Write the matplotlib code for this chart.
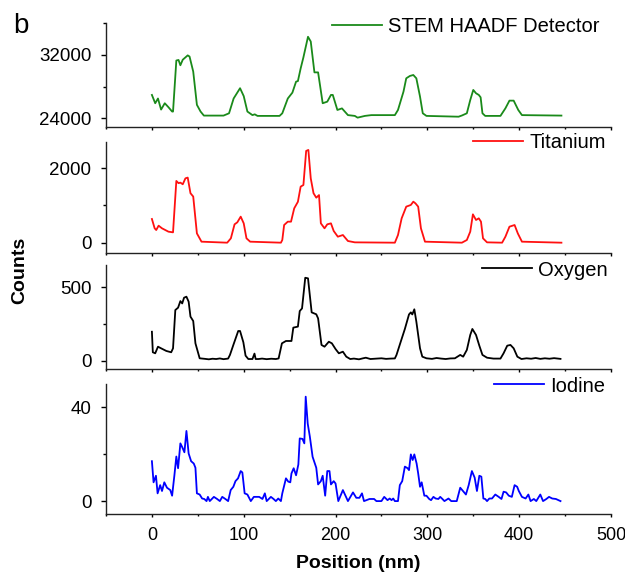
import matplotlib
matplotlib.use('Agg')
import matplotlib.pyplot as plt
from matplotlib.ticker import MultipleLocator

plt.rcParams['font.family'] = ['Liberation Sans', 'DejaVu Sans']

# STEM HAADF line profile
haadf_x = [0, 3.6, 6.6, 10, 14, 18, 22, 23, 26.6, 29, 31, 33.6, 39, 41, 45, 49, 53, 56.6, 78, 84,
           89, 96, 100, 104, 109.5, 112, 115, 139, 142, 148, 153, 157, 159, 162, 165, 170, 173, 177,
           181, 186, 191, 195, 197, 202, 207, 213.5, 221, 224, 232, 239, 264.6, 268, 274, 277, 281,
           284.7, 288, 292, 295, 299, 334, 337.6, 343, 346.7, 350, 353, 356, 358, 360, 363, 379.6,
           385, 389.4, 394, 399, 403, 446]
haadf_y = [26950, 25900, 26500, 25100, 25900, 25400, 24850, 24850, 31300, 31370, 30700, 31400, 31950,
           31800, 29900, 25700, 24850, 24340, 24340, 24630, 26500, 27800, 26800, 24850, 24400, 24500,
           24300, 24300, 24630, 26500, 27240, 28630, 28700, 30300, 31700, 34300, 33700, 29800, 29800,
           25900, 26100, 26950, 26950, 25050, 25250, 24400, 24300, 24080, 24300, 24400, 24400, 25050,
           27370, 29050, 29350, 29470, 29050, 26740, 24630, 24300, 24200, 24350, 24630, 26300, 27580,
           27160, 26950, 26650, 24630, 24300, 24300, 25260, 26230, 26230, 25050, 24400, 24340]

# Titanium
ti_x = [0, 3, 4.7, 7.3, 11, 14.6, 18, 23, 26.6, 29, 31, 33.6, 36.5, 39, 42, 45, 49, 54, 82, 86, 90,
        93, 96.7, 100, 103, 107, 140.5, 142, 144, 148, 151.5, 155, 159, 162, 165, 168, 170.4, 173,
        176, 179, 182, 184, 188, 191, 195, 198, 202.5, 208, 213.5, 221, 264.6, 268, 272, 277, 282,
        284.7, 287, 290, 293, 297.4, 337.6, 343, 346.7, 349.6, 353, 356, 358.4, 360.6, 365, 381.4,
        385, 389.4, 395, 398.5, 403, 446]
ti_y = [637, 386, 340, 457, 386, 340, 296, 278, 1660, 1600, 1615, 1570, 1730, 1750, 1330, 1240, 250,
        27, 0, 117, 493, 547, 700, 520, 117, 27, 0, 72, 475, 565, 565, 924, 1100, 1507, 1550, 2467,
        2494, 1730, 1330, 1210, 1280, 520, 386, 493, 520, 314, 161, 206, 45, 9, 0, 206, 655, 969,
        1014, 1103, 1058, 969, 386, 27, 0, 72, 296, 762, 610, 655, 565, 117, 9, 0, 161, 430, 475,
        250, 27, 0]

# Oxygen
o_x = [0, 1, 3.6, 6.6, 10, 15.7, 21, 23, 25.5, 28.5, 31, 33, 35, 37.6, 40, 42, 45, 47.4, 52, 58,
       62, 66, 70, 74, 78, 83, 85, 88.7, 94, 96, 99.6, 102, 105, 109.5, 111.7, 113, 116, 120, 125,
       130, 135, 138, 141.6, 146, 152, 154, 159, 161, 163.5, 167, 170, 174, 179, 181, 184.7, 188,
       192.7, 196, 200, 203.6, 208, 211.7, 216, 220, 225.5, 230, 233, 238, 245, 250, 255, 260,
       264.6, 266.4, 271, 275.5, 280, 282, 283.6, 285.8, 288, 292, 294.5, 299, 305, 310, 315, 320,
       325, 330, 335.8, 339, 343, 346.7, 349, 353, 356.6, 360, 365, 372, 379.6, 383, 387, 390.5,
       394, 398, 402.5, 408, 413, 418, 423, 428, 433, 438, 445]
o_y = [197, 57, 50, 95, 84, 66, 57, 84, 345, 361, 406, 390, 429, 436, 402, 300, 270, 118, 16, 12, 9,
       13, 11, 15, 10, 14, 39, 107, 202, 202, 125, 34, 11, 11, 48, 11, 11, 14, 10, 13, 11, 15, 118,
       134, 134, 225, 232, 338, 356, 565, 561, 329, 316, 288, 107, 95, 129, 118, 79, 50, 61, 27, 11,
       14, 9, 16, 20, 11, 14, 16, 12, 14, 15, 39, 129, 216, 315, 329, 315, 350, 266, 84, 27, 16, 12,
       18, 14, 11, 15, 16, 39, 27, 73, 175, 216, 175, 102, 39, 20, 14, 14, 50, 102, 107, 84, 27, 11,
       16, 13, 18, 12, 16, 13, 17, 12]

# Iodine
i_x = [0, 1.8, 4.4, 6.2, 9, 11, 13.5, 16.4, 20, 22, 24.5, 26.6, 28.5, 31, 33, 35.4, 37.6, 40, 42.7,
       45.6, 47.4, 49, 52, 54.7, 57, 59.5, 61, 63, 67.5, 71, 74, 76.6, 80, 83, 85.8, 88.7, 91, 93.8,
       96.7, 98.5, 101, 104, 107.7, 111, 116.8, 120.4, 123, 125, 129.6, 132.5, 135, 137.6, 140.5,
       142, 146, 148.5, 150.7, 152, 154.4, 157, 159.5, 161, 164, 166, 167.5, 169.7, 172, 175, 179,
       181, 184, 186, 188.7, 191, 193.4, 195, 198, 200, 203, 208, 213.5, 219, 222.6, 226, 228.8,
       231, 237, 242, 244.5, 250, 253, 256.6, 259, 261, 262.8, 264.6, 268, 270, 272.6, 275.5,
       278.5, 280, 282, 284, 285.8, 288.3, 290, 292, 293.8, 296.7, 299, 302, 304, 306.6, 309, 312,
       314, 316.4, 318.6, 323, 326, 332, 335.8, 339.4, 342, 345, 348.5, 351.5, 354, 356.6, 358.8,
       361, 363, 365, 367.5, 370.4, 374, 377.7, 380.7, 383, 385.8, 388.7, 392, 395, 397.8, 399.6,
       403, 407, 410, 412.4, 416, 418.6, 423, 426, 429.6, 432.5, 436, 440, 442.7, 445]
i_y = [17, 8, 10.8, 3.3, 6.8, 4.3, 8, 5.7, 4.7, 2.3, 11, 19, 14, 24.6, 23, 20.8, 29.9, 20.3, 17, 16,
       14.2, 3.3, 2.8, 1.1, 0.9, 0, 1.8, 0, 1.8, 0.9, 0, 1.8, 0.9, 0, 4.7, 6.1, 8.5, 9.7, 12.8, 12.2,
       3.3, 2.8, 0, 1.8, 1.8, 0.9, 3.3, 0, 1.8, 0.9, 0, 1.1, 0, 3.3, 9.7, 8.3, 8, 11.8, 14, 11, 15.6,
       26.7, 26.5, 24.6, 44.5, 33, 27.5, 18.9, 14.2, 7.1, 8.5, 10.8, 2.3, 12.8, 12.8, 7.1, 8.5, 7.5,
       0, 4.7, 0, 3.7, 1.4, 1.4, 3.3, 0, 0.9, 0.9, 0, 0, 1.8, 0.4, 1.1, 0.4, 1.1, 0, 0, 6.8, 8.5,
       14.7, 14, 13.2, 19.9, 17.5, 19.9, 16, 11.8, 6.1, 8, 2.3, 2.3, 0.9, 0.4, 1.8, 1.1, 0.9, 1.8,
       0.9, 0, 1.1, 0, 0, 5.7, 4, 2.8, 6.8, 12.8, 10, 4.3, 10.8, 10.4, 1.1, 0.9, 0, 1.1, 1.1, 2.8,
       1.8, 0.9, 4, 3.7, 2.3, 1.8, 6.8, 6.1, 4.3, 1.8, 1.1, 2.8, 0, 0.9, 0, 2.8, 0, 0.9, 1.8, 1.1,
       0.9, 0.4, 0]

labels = ['STEM HAADF Detector', 'Titanium', 'Oxygen', 'Iodine']
colors = ['#1a8a1a', '#ff1010', 'black', '#0000ff']
series = [(haadf_x, haadf_y), (ti_x, ti_y), (o_x, o_y), (i_x, i_y)]

# panel boxes in pixels: (top, bottom), plus y limits and tick spacing
W, H = 625, 575
boxes = [(23, 127.3), (142, 252.5), (265, 369), (384, 514)]
ylims = [(22860, 36040), (-264, 2707), (-57, 652), (-5.5, 49.9)]
major = [8000, 2000, 500, 40]
legend_pos = [(600, 27), (606, 143), (608, 270), (605, 386)]

fig = plt.figure(figsize=(W / 100, H / 100), dpi=100)
left, right = 106, 611

for k in range(4):
    top, bot = boxes[k]
    ax = fig.add_axes([left / W, 1 - bot / H, (right - left) / W, (bot - top) / H])
    ax.plot(series[k][0], series[k][1], color=colors[k], lw=1.3, label=labels[k])
    ax.set_xlim(-50, 500)
    ax.set_ylim(*ylims[k])
    ax.spines['top'].set_visible(False)
    ax.spines['right'].set_visible(False)
    for s in ('left', 'bottom'):
        ax.spines[s].set_linewidth(1.0)
        ax.spines[s].set_color('#222222')
    ax.xaxis.set_major_locator(MultipleLocator(100))
    ax.xaxis.set_minor_locator(MultipleLocator(50))
    ax.yaxis.set_major_locator(MultipleLocator(major[k]))
    ax.yaxis.set_minor_locator(MultipleLocator(major[k] / 2))
    ax.tick_params(axis='y', which='major', length=3.6, width=1, pad=7, labelsize=13.5)
    ax.tick_params(axis='y', which='minor', length=2, width=1)
    ax.tick_params(axis='x', which='major', length=2.5, width=1, pad=7, labelsize=13)
    ax.tick_params(axis='x', which='minor', length=1.6, width=1)
    if k < 3:
        ax.tick_params(axis='x', labelbottom=False)
    lx, ly = legend_pos[k]
    ax.legend(loc='center right', bbox_to_anchor=(lx / W, 1 - ly / H),
              bbox_transform=fig.transFigure, frameon=False, fontsize=14.5,
              handlelength=2.5, handletextpad=0.3, borderpad=0, borderaxespad=0)

fig.text(13 / W, 1 - 33 / H, 'b', fontsize=20, ha='left', va='baseline')
fig.text(19.5 / W, 1 - 270 / H, 'Counts', fontsize=14, weight='bold',
         rotation=90, ha='center', va='center')
fig.text(358 / W, 1 - 563 / H, 'Position (nm)', fontsize=14, weight='bold',
         ha='center', va='center')

fig.savefig('out.png', dpi=100)
